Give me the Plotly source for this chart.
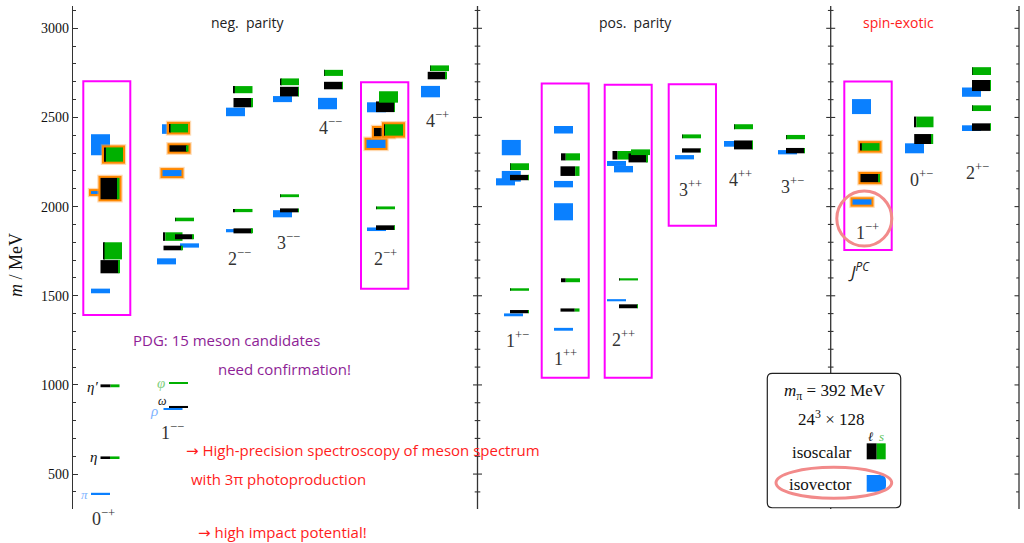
import plotly.graph_objects as go

# ---------------------------------------------------------------- data
# J^PC channels, left to right
channel_labels = ["0<sup>−+</sup>", "1<sup>−−</sup>", "2<sup>−−</sup>", "3<sup>−−</sup>",
                  "4<sup>−−</sup>", "2<sup>−+</sup>", "4<sup>−+</sup>",
                  "1<sup>+−</sup>", "1<sup>++</sup>", "2<sup>++</sup>", "3<sup>++</sup>",
                  "4<sup>++</sup>", "3<sup>+−</sup>",
                  "1<sup>−+</sup>", "0<sup>+−</sup>", "2<sup>+−</sup>"]
channel_label_mass = [256, 736, 1717, 1807, 2447, 1712, 2486,
                      1257, 1156, 1262, 2104, 2160, 2121,
                      1858, 2160, 2199]

# isovector levels (MeV): channel index, mass, half-width of the band, hybrid flag
iv_chan = [0, 0, 0, 0, 1, 1, 1, 1, 1, 2, 2, 3, 3, 4, 5, 5, 5, 6,
           7, 7, 7, 7, 8, 8, 8, 8, 9, 9, 9, 10, 11, 12, 13, 13, 14, 15, 15]
iv_mass = [2347, 2079, 1527, 391, 2435, 2188, 1782, 1693, 864, 2531, 1865, 2603, 1960,
           2578, 2557, 2352, 1873, 2645,
           2331, 2170, 2139, 1393, 2431, 2126, 1971, 1312, 2242, 2210, 1475, 2277, 2352,
           2305, 2561, 2026, 2327, 2642, 2440]
iv_err = [59, 8, 13, 4, 27, 17, 12, 17, 4, 24, 9, 17, 20, 32, 28, 23, 10, 32,
          43, 30, 20, 8, 21, 18, 48, 8, 14, 18, 6, 12, 16, 12, 42, 15, 28, 26, 16]
iv_hybrid = [0, 1, 0, 0, 0, 1, 0, 0, 0, 0, 0, 0, 0, 0, 0, 1, 0, 0,
             0, 0, 0, 0, 0, 0, 0, 0, 0, 0, 0, 0, 0, 0, 0, 1, 0, 0, 0]

# isoscalar levels: channel, mass, half-width, strange (s-sbar) fraction, hybrid flag
is_chan = [0, 0, 0, 0, 0, 0, 1, 1, 1, 1, 1, 1, 1, 1, 2, 2, 2, 2, 3, 3, 3, 3, 4, 4,
           5, 5, 5, 5, 5, 5, 6, 6, 7, 7, 7, 7, 8, 8, 8, 8, 9, 9, 9, 9, 9,
           10, 10, 11, 11, 12, 12, 13, 13, 14, 14, 15, 15, 15, 15]
is_mass = [2292, 2101, 1752, 1663, 995, 594,
           2440, 2326, 1928, 1832, 1831, 1768, 1010, 878,
           2656, 2583, 1978, 1864, 2700, 2645, 2061, 1979, 2750, 2679,
           2560, 2615, 2418, 2430, 1993, 1882, 2776, 2735,
           2224, 2163, 1535, 1411, 2279, 2199, 1587, 1420, 2288, 2273, 2305, 1592, 1441,
           2394, 2315, 2448, 2346, 2390, 2314,
           2335, 2160, 2475, 2379, 2760, 2679, 2552, 2446]
is_err = [40, 60, 48, 37, 8, 5,
          24, 18, 10, 24, 14, 13, 4, 4,
          20, 26, 9, 14, 19, 27, 8, 11, 17, 21,
          30, 32, 23, 32, 8, 13, 16, 21,
          19, 15, 7, 9, 20, 27, 11, 9, 24, 25, 16, 6, 11,
          11, 12, 14, 25, 12, 15,
          21, 23, 30, 28, 22, 31, 16, 21]
is_sfrac = [0.90, 0.10, 0.92, 0.05, 0.47, 0.50,
            0.92, 0.08, 0.97, 0.90, 0.08, 0.04, 1.00, 0.00,
            0.93, 0.06, 0.93, 0.03, 0.93, 0.03, 0.97, 0.04, 0.97, 0.03,
            0.03, 1.00, 0.10, 0.95, 0.97, 0.03, 0.97, 0.05,
            0.97, 0.04, 0.97, 0.04, 0.75, 0.23, 0.75, 0.25, 0.73, 0.05, 1.00, 0.97, 0.03,
            0.97, 0.04, 0.97, 0.04, 0.97, 0.04,
            0.93, 0.07, 0.90, 0.08, 0.97, 0.05, 0.97, 0.04]
is_hybrid = [1, 1, 0, 0, 0, 0,
             1, 1, 0, 0, 0, 0, 0, 0,
             0, 0, 0, 0, 0, 0, 0, 0, 0, 0,
             0, 0, 1, 1, 0, 0, 0, 0,
             0, 0, 0, 0, 0, 0, 0, 0, 0, 0, 0, 0, 0,
             0, 0, 0, 0, 0, 0,
             1, 1, 0, 0, 0, 0, 0, 0]

# ---------------------------------------------------------------- layout of the columns
channel_x = [103.5, 172, 239, 288, 330, 385, 437,
             517, 565, 623, 690, 740, 792,
             867, 921, 977]
iv_dx = [-3, -3, -3, -3, -0.5, 0, 17.5, -5.5, 1, -3.5, -3.5, -5.5, -5.5, -2.5,
         -8.5, -9, -8.5, -6.5,
         -5.7, -5.7, -11.5, -3.5, -1.5, -1.5, -1.5, -1.5, -6.5, 0.5, -6.5, -5.5, -6.5,
         -4.5, -5.5, -5, -6.5, -5.5, -5.5]
is_dx = [10, 6.5, 9, 6.5, 6.5, 6.5,
         6.5, 7, 12.5, 1, 12.5, 1, 6.5, 6.5,
         4, 4, 4, 4, 1.5, 1.5, 1.5, 1.5, 3.5, 3.5,
         0.5, 3.5, -1.5, 8.5, 0.5, 0.5, 2.5, 0.2,
         2.5, 2.5, 2.5, 2.5, 5.5, 5, 5.5, 5, -1, 15, 17.5, 5.5, 5.5,
         1.5, 1.5, 3.5, 3.5, 3.5, 3.5,
         3, 3, 3, 2.7, 4.5, 4.5, 4.5, 4.5]

# highlighted channels: (x0, x1, m_low, m_high)
highlight_boxes = [(83.3, 130.3, 1392, 2703), (361, 408.3, 1540, 2697),
                   (541.7, 588.7, 1040, 2691), (604.7, 651.7, 1040, 2684),
                   (668.7, 716, 1893, 2686), (844.3, 891.7, 1757, 2701)]

# ---------------------------------------------------------------- style
BLUE = "#0A80FF"
GREEN = "#00B000"
BLACK = "#000000"
ORANGE = "#FF8800"
MAGENTA = "#FF00FF"
SALMON = "#F28A8A"
RED = "#FF1C1C"
PURPLE = "#8E1E96"
AXIS = "#333333"
SERIF = "Liberation Serif, DejaVu Serif, serif"
SANS = "Open Sans, DejaVu Sans, sans-serif"

W, H = 1024, 543
M_L, M_R, M_T, M_B = 73, 1, 6, 34
X_RANGE = [73, 1023]
Y_RANGE = [304.1, 3125.1]
MEV_PER_PX = (Y_RANGE[1] - Y_RANGE[0]) / (H - M_T - M_B)
BAR_W = 19
OUTLINE = 2.0

fig = go.Figure()


def add_level(xc, mass, err, parts, hybrid):
    offs, wids, bases, hts, cols = [], [], [], [], []
    if hybrid:
        for extra, col in ((OUTLINE + 1.2, "rgba(255,170,80,0.45)"), (OUTLINE, ORANGE)):
            offs.append(-BAR_W / 2 - extra)
            wids.append(BAR_W + 2 * extra)
            bases.append(mass - err - extra * MEV_PER_PX)
            hts.append(2 * err + 2 * extra * MEV_PER_PX)
            cols.append(col)
    x0 = -BAR_W / 2
    for col, frac in parts:
        if frac <= 0:
            continue
        offs.append(x0)
        wids.append(frac * BAR_W)
        bases.append(mass - err)
        hts.append(2 * err)
        cols.append(col)
        x0 += frac * BAR_W
    fig.add_trace(go.Bar(
        x=[xc] * len(offs), y=hts, base=bases, width=wids, offset=offs,
        marker=dict(color=cols, line=dict(width=0)),
        showlegend=False, hoverinfo="skip"))


for ch, m, e, hyb, dx in zip(iv_chan, iv_mass, iv_err, iv_hybrid, iv_dx):
    add_level(channel_x[ch] + dx, m, e, [(BLUE, 1.0)], hyb)
for ch, m, e, sf, hyb, dx in zip(is_chan, is_mass, is_err, is_sfrac, is_hybrid, is_dx):
    add_level(channel_x[ch] + dx, m, e, [(BLACK, 1 - sf), (GREEN, sf)], hyb)

shapes = []

# separators between parity sectors and the right frame, with mass ticks
for xs, both in ((477.5, True), (830.7, True), (1019, False)):
    shapes.append(dict(type="line", xref="x", yref="y", x0=xs, x1=xs,
                       y0=Y_RANGE[0], y1=Y_RANGE[1], line=dict(color=AXIS, width=1.3)))
    for m in range(400, 3101, 100):
        ln = 4.5 if m % 500 == 0 else 2.8
        shapes.append(dict(type="line", xref="x", yref="y", x0=xs - ln,
                           x1=xs + ln if both else xs, y0=m, y1=m,
                           line=dict(color=AXIS, width=1.1)))

for x0, x1, lo, hi in highlight_boxes:
    shapes.append(dict(type="rect", xref="x", yref="y", x0=x0, x1=x1, y0=lo, y1=hi,
                       line=dict(color=MAGENTA, width=2)))

# ring around the exotic 1-+ ground state
shapes.append(dict(type="circle", xref="x", yref="y", x0=836.8, x1=891.8,
                   y0=1779, y1=2087.5, line=dict(color=SALMON, width=3)))

# key box with rounded corners
bx0, bx1, by0, by1 = 767.3, 900.7, 311, 1065
rx, ry = 5, 5 * MEV_PER_PX
key_path = (f"M{bx0 + rx},{by1} L{bx1 - rx},{by1} Q{bx1},{by1} {bx1},{by1 - ry} "
            f"L{bx1},{by0 + ry} Q{bx1},{by0} {bx1 - rx},{by0} L{bx0 + rx},{by0} "
            f"Q{bx0},{by0} {bx0},{by0 + ry} L{bx0},{by1 - ry} Q{bx0},{by1} {bx0 + rx},{by1} Z")
shapes.append(dict(type="path", xref="x", yref="y", path=key_path,
                   fillcolor="white", line=dict(color="#222", width=1.2)))
shapes.append(dict(type="rect", xref="x", yref="y", x0=866.7, x1=876.7, y0=582.7, y1=672.4,
                   fillcolor=BLACK, line=dict(width=0)))
shapes.append(dict(type="rect", xref="x", yref="y", x0=876.7, x1=885.7, y0=582.7, y1=672.4,
                   fillcolor=GREEN, line=dict(width=0)))
sx0, sx1, sy0, sy1 = 866.7, 886, 401, 494.7
sr, sry = 6, 6 * MEV_PER_PX
swatch = (f"M{sx0},{sy0} L{sx0},{sy1} L{sx1 - sr},{sy1} Q{sx1},{sy1} {sx1},{sy1 - sry} "
          f"L{sx1},{sy0 + sry} Q{sx1},{sy0} {sx1 - sr},{sy0} Z")
shapes.append(dict(type="path", xref="x", yref="y", path=swatch,
                   fillcolor=BLUE, line=dict(width=0)))
shapes.append(dict(type="circle", xref="x", yref="y", x0=776, x1=891.7, y0=364, y1=537.8,
                   line=dict(color=SALMON, width=3)))

fig.update_layout(shapes=shapes)


def note(x, y, text, size, color="#111", family=SERIF, **kw):
    # texts that sit outside the axis ranges are placed in paper units
    inside = X_RANGE[0] <= x <= X_RANGE[1] and Y_RANGE[0] <= y <= Y_RANGE[1]
    if inside:
        pos = dict(x=x, y=y, xref="x", yref="y")
    else:
        pos = dict(x=(x - X_RANGE[0]) / (X_RANGE[1] - X_RANGE[0]),
                   y=(y - Y_RANGE[0]) / (Y_RANGE[1] - Y_RANGE[0]),
                   xref="paper", yref="paper")
    fig.add_annotation(**pos, text=text, showarrow=False,
                       font=dict(family=family, size=size, color=color),
                       xanchor="center", yanchor="middle", **kw)


for cx, lm, lab in zip(channel_x, channel_label_mass, channel_labels):
    note(cx, lm, lab, 18, color="#333")

# ground-state names
note(92, 990, "<i>η′</i>", 15)
note(93, 594, "<i>η</i>", 15)
note(84, 388, "<i>π</i>", 13, color="#7FB4FF")
note(161, 1010, "<i>φ</i>", 15, color="#7FD07F")
note(162, 910, "<i>ω</i>", 12)
note(154, 854, "<i>ρ</i>", 15, color="#7FB4FF")

# sector headings
note(248, 3030, "neg.\u00a0 parity", 14, color="#222", family=SANS)
note(635, 3030, "pos.\u00a0 parity", 14, color="#222", family=SANS)
note(898, 3031, "spin-exotic", 14, color=RED, family=SANS)
note(859, 1639, "<i>J</i><sup><i>PC</i></sup>", 17, color="#222", family=SANS)

# axis title
note(16, 1672, "<i>m</i> / MeV", 18, textangle=-90)

# remarks
note(226, 1252, "PDG: 15 meson candidates", 15, color=PURPLE, family=SANS)
note(284, 1087.5, "need confirmation!", 15, color=PURPLE, family=SANS)
note(362.5, 635, "→ High-precision spectroscopy of meson spectrum", 15, color=RED, family=SANS)
note(278.5, 472, "with 3π photoproduction", 15, color=RED, family=SANS)
note(282, 177, "→ high impact potential!", 15, color=RED, family=SANS)

# key text
note(835, 962, "<i>m</i><sub>π</sub> = 392 MeV", 17)
note(831.7, 813, "24<sup>3</sup> × 128", 17)
note(871, 710, "<i>ℓ</i>", 13)
note(881, 710, "<i>s</i>", 13, color="#5CC45C")
note(821.7, 620, "isoscalar", 17)
note(820, 444, "isovector", 17)

fig.update_layout(
    width=W, height=H,
    margin=dict(l=M_L, r=M_R, t=M_T, b=M_B),
    paper_bgcolor="white", plot_bgcolor="white",
    barmode="overlay", showlegend=False,
    xaxis=dict(range=X_RANGE, visible=False, fixedrange=True),
    yaxis=dict(range=Y_RANGE, showline=True, linecolor=AXIS, linewidth=1.3,
               showgrid=False, zeroline=False, fixedrange=True,
               tickmode="linear", tick0=0, dtick=500,
               ticks="inside", ticklen=5, tickwidth=1.2, tickcolor=AXIS,
               tickfont=dict(family=SERIF, size=14, color="#111"),
               minor=dict(ticks="inside", ticklen=3, tickwidth=1.1, tickcolor=AXIS,
                          tick0=0, dtick=100, showgrid=False)),
)

fig.write_html("out.html", config={"displayModeBar": False})
